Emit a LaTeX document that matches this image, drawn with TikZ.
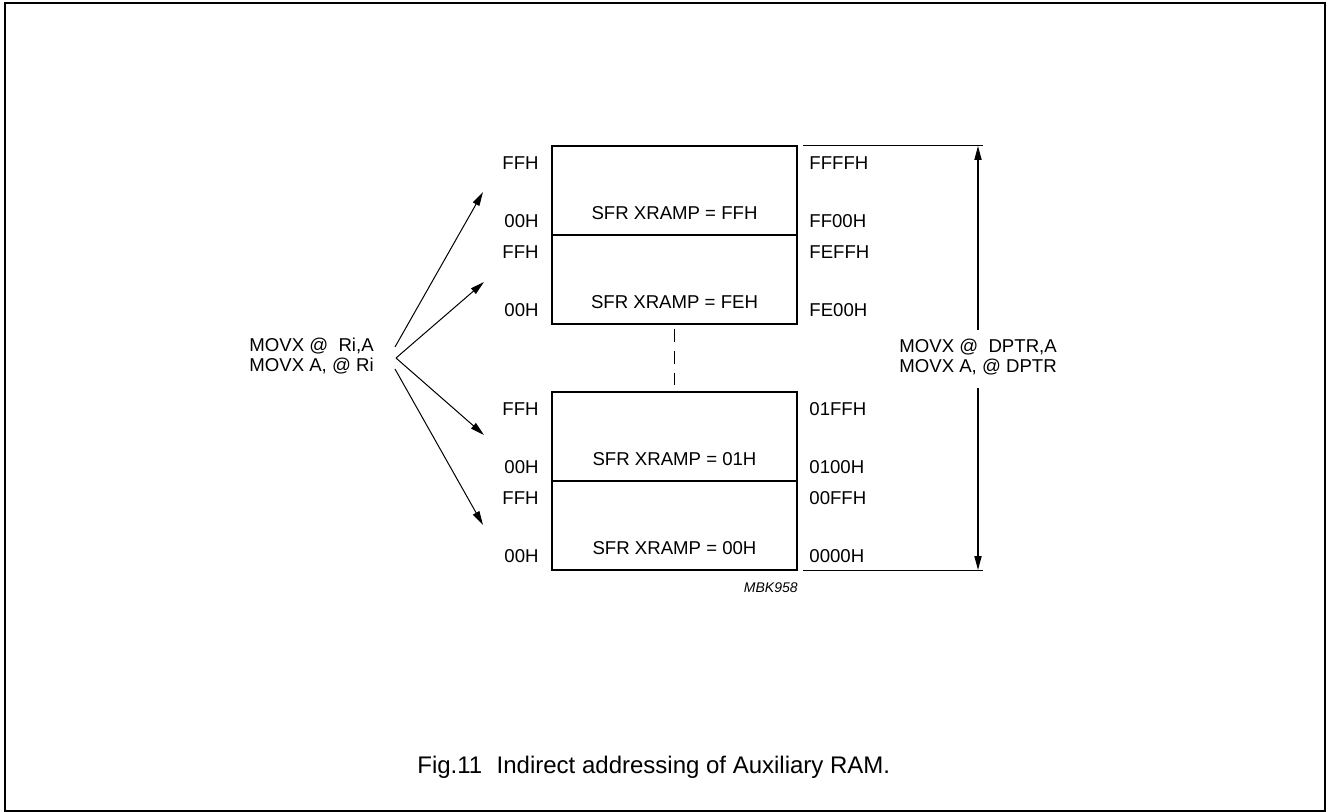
\documentclass[tikz,border=0pt]{standalone}
\usepackage{fontspec}
\setmainfont{Liberation Sans}
\usepackage{tikz}
\usetikzlibrary{arrows.meta}

\begin{document}
\begin{tikzpicture}[x=0.5pt,y=-0.5pt,
  every node/.style={inner sep=0pt,font=\fontsize{9.3}{9.6}\selectfont},
  memblock/.style={draw,line width=0.75pt,minimum width=122.5pt,minimum height=44.5pt},
  arr/.style={-{Triangle[length=7pt,width=3.6pt]},line width=0.5pt}]
  \useasboundingbox (0,0) rectangle (1327,812);
  \draw[line width=1pt] (5,3) rectangle (1325,811);

  % the four 256-byte pages
  \foreach \t/\nm/\sfr/\hi/\lo in {146/ff/FFH/FFFFH/FF00H,235/fe/FEH/FEFFH/FE00H,
      392/one/01H/01FFH/0100H,481/zero/00H/00FFH/0000H}
  {
    \node[memblock] (blk\nm) at (674.5,\t+44.5) {};
    \node (sfr\nm) at (674.5,\t+67) {SFR XRAMP = \sfr};
    \node[anchor=east] (top\nm) at (539,\t+17) {FFH};
    \node[anchor=east] (bot\nm) at (539,\t+75) {00H};
    \node[anchor=west] (hi\nm) at (809,\t+17) {\hi};
    \node[anchor=west] (lo\nm) at (809,\t+75) {\lo};
  }
  \draw[line width=0.6pt,dash pattern=on 6.5pt off 4.5pt,shorten <=2pt,shorten >=3pt]
    (blkfe.south) -- (blkone.north);

  % MOVX with Ri
  \node[anchor=west,align=left] (ri) at (249,356) {MOVX @~~Ri,A\\MOVX A, @ Ri};
  \coordinate (fanup) at (395,347);
  \coordinate (fanmid) at (396,358);
  \coordinate (fandn) at (395,369);
  \coordinate (tipff) at (483,192);
  \coordinate (tipfe) at (484,282);
  \coordinate (tipone) at (484,435);
  \coordinate (tipzero) at (483,525);
  \draw[arr] (fanup) -- (tipff);
  \draw[arr] (fanmid) -- (tipfe);
  \draw[arr] (fanmid) -- (tipone);
  \draw[arr] (fandn) -- (tipzero);

  % MOVX with DPTR
  \node[anchor=west,align=left] (dptr) at (899,357) {MOVX @~~DPTR,A\\MOVX A, @ DPTR};
  \coordinate (rtop) at (978,146);
  \coordinate (rbot) at (978,570);
  \coordinate (gaphi) at (978,330);
  \coordinate (gaplo) at (978,388);
  \draw[line width=0.5pt] (803,146) -- (983,146);
  \draw[line width=0.5pt] (803,570) -- (983,570);
  \draw[arr,line width=0.6pt] (gaphi) -- (rtop);
  \draw[arr,line width=0.6pt] (gaplo) -- (rbot);

  \node[anchor=east,font=\fontsize{7}{8}\selectfont\itshape] (mbk) at (798,588) {MBK958};
  \node[anchor=west,font=\fontsize{12}{14}\selectfont] (cap) at (417,767)
    {Fig.11\hspace{0.6em}Indirect addressing of Auxiliary RAM.};
\end{tikzpicture}
\end{document}
